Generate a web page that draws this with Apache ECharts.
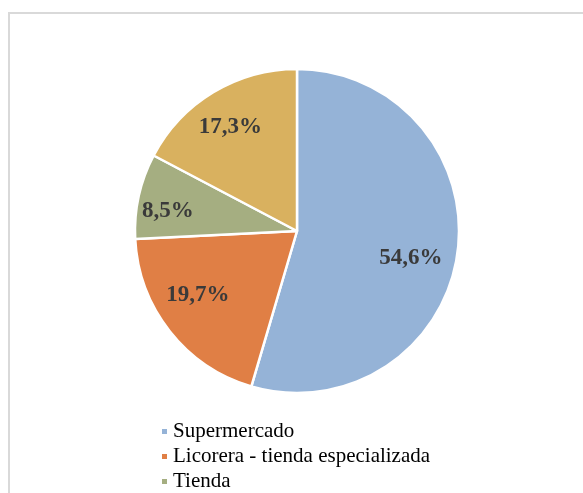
<!DOCTYPE html>
<html>
<head>
<meta charset="utf-8">
<script src="https://cdn.jsdelivr.net/npm/echarts@6/dist/echarts.min.js"></script>
<style>
  html, body { margin: 0; padding: 0; background: #fff; }
  #chart { width: 583px; height: 493px; }
</style>
</head>
<body>
<div id="chart"></div>
<script>
// categories and shares (%)
var categories = ['Supermercado', 'Licorera - tienda especializada', 'Tienda', 'Otros'];
var shares = [54.6, 19.7, 8.5, 17.3];
var colors = ['#95B3D7', '#E07F45', '#A5AE81', '#D9B15F'];
var legendNames = ['Supermercado', 'Licorera - tienda especializada', 'Tienda'];

// small nudges so labels sit where the original placed them
var labelNudge = [[-6, 10], [-4, -11], [-11, 6], [-4, 0]];

var pieData = categories.map(function (name, i) {
	return { name: name, value: shares[i], itemStyle: { color: colors[i] } };
});

var labelData = categories.map(function (name, i) {
	return { name: name, value: shares[i], label: { offset: labelNudge[i] } };
});

var myChart = echarts.init(document.getElementById('chart'));

var option = {
	animation: false,
	graphic: [{
		type: 'rect',
		shape: { x: 9, y: 13, width: 600, height: 500 },
		style: { fill: 'none', stroke: '#d9d9d9', lineWidth: 2 },
		silent: true
	}],
	legend: {
		data: legendNames,
		orient: 'horizontal',
		left: 155,
		top: 416,
		width: 20,
		itemWidth: 7,
		itemHeight: 7,
		itemGap: 4,
		icon: 'rect',
		textStyle: {
			fontFamily: 'Liberation Serif',
			fontSize: 21,
			color: '#000'
		}
	},
	series: [{
		type: 'pie',
		center: [297, 231],
		radius: [0, 162],
		startAngle: 90,
		clockwise: true,
		label: { show: false },
		labelLine: { show: false },
		itemStyle: { borderColor: '#fff', borderWidth: 2.5 },
		emphasis: { disabled: true },
		data: pieData
	}, {
		// transparent ring, only used to place the percent labels
		type: 'pie',
		center: [297, 231],
		radius: [100, 136],
		startAngle: 90,
		clockwise: true,
		silent: true,
		legendHoverLink: false,
		itemStyle: { color: 'rgba(0,0,0,0)' },
		label: {
			show: true,
			position: 'inside',
			formatter: function (p) {
				return p.value.toFixed(1).replace('.', ',') + '%';
			},
			fontFamily: 'Liberation Serif',
			fontWeight: 'bold',
			fontSize: 23,
			color: '#3a3a3a'
		},
		labelLine: { show: false },
		emphasis: { disabled: true },
		data: labelData
	}]
};

myChart.setOption(option);
</script>
</body>
</html>
